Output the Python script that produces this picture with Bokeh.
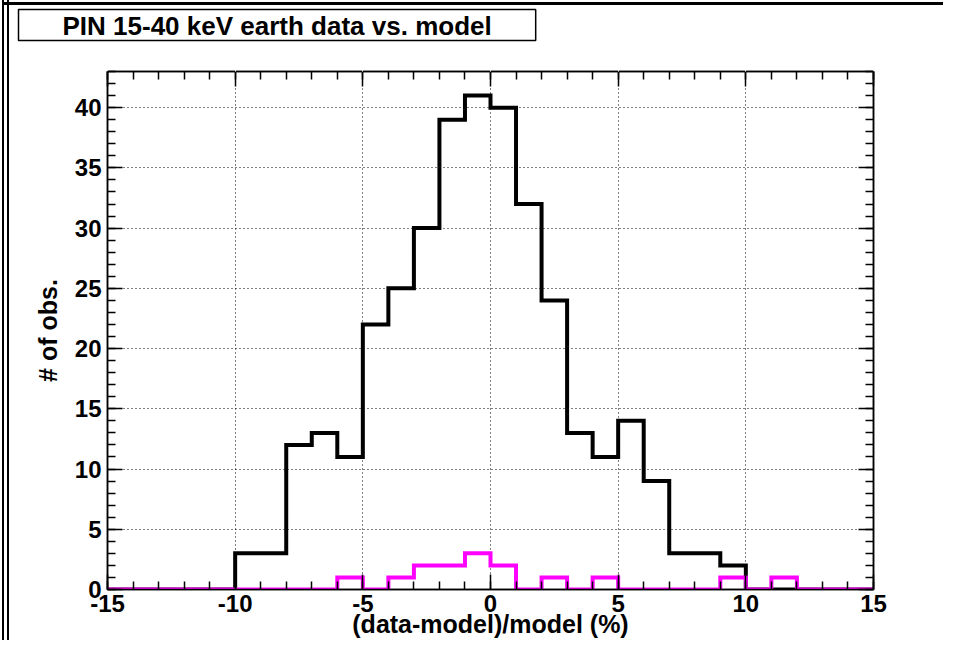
from bokeh.plotting import figure
from bokeh.models import LinearAxis, SingleIntervalTicker, InlineStyleSheet
from bokeh.embed import file_html
from bokeh.resources import INLINE

# ---- data ----
bin_edges = list(range(-15, 16))  # 30 bins of width 1 from -15 to 15
data_counts = [0, 0, 0, 0, 0,
               3, 3, 12, 13, 11,
               22, 25, 30, 39, 41,
               40, 32, 24, 13, 11,
               14, 9, 3, 3, 2,
               0, 0, 0, 0, 0]
sub_counts = [0, 0, 0, 0, 0,
              0, 0, 0, 0, 1,
              0, 1, 2, 2, 3,
              2, 0, 1, 0, 1,
              0, 0, 0, 0, 1,
              0, 1, 0, 0, 0]
x_tick_values = [-15, -10, -5, 0, 5, 10, 15]
x_tick_labels = ["-15", "-10", "-5", "0", "5", "10", "15"]
title_text = "PIN 15-40 keV earth data vs. model"
x_title = "(data-model)/model (%)"
y_title = "# of obs."

FONT = "Liberation Sans"
W, H = 945, 640
FL, FR, FT, FB = 107, 873, 71, 591   # frame edges in canvas pixels

p = figure(width=W, height=H, x_range=(-15, 15), y_range=(0, 43),
           output_backend="svg", toolbar_location=None,
           min_border_left=FL, min_border_right=W - FR,
           min_border_top=FT, min_border_bottom=H - FB,
           title=title_text)
p.background_fill_color = "white"
p.border_fill_color = "white"
p.border_fill_alpha = 0
p.outline_line_color = "black"
p.outline_line_width = 1.5
p.stylesheets = [InlineStyleSheet(css=(
    ":host { clip-path: inset(0 2px 0 0); background: "
    "linear-gradient(black, black) 2px 2px / 100% 3px no-repeat, "
    "linear-gradient(to right, white 0 2px, black 2px 4px, white 4px 7px, black 7px 9px) 0 0 / 9px 100% no-repeat, "
    "white; }"))]

# title box
p.title.align = "left"
p.title.offset = 18 - FL
p.title.standoff = 0
p.title.text_font = FONT
p.title.text_font_style = "bold"
p.title.text_font_size = "26px"
p.title.text_color = "black"
p.title.border_line_color = "black"
p.title.border_line_width = 1.5
p.title.background_fill_color = "white"
p.title.padding = dict(left=44, right=44, top=1, bottom=0)

# main axes
for ax in (p.xaxis[0], p.yaxis[0]):
    ax.ticker = SingleIntervalTicker(interval=5, num_minor_ticks=5)
    ax.major_tick_in = 15
    ax.major_tick_out = 0
    ax.minor_tick_in = 8
    ax.minor_tick_out = 0
    ax.major_tick_line_width = 1.5
    ax.minor_tick_line_width = 1.5
    ax.axis_line_width = 1.5
    ax.major_label_text_font = FONT
    ax.major_label_text_font_style = "bold"
    ax.major_label_text_font_size = "24px"
    ax.major_label_text_color = "black"
    ax.axis_label_text_font = FONT
    ax.axis_label_text_font_style = "bold"
    ax.axis_label_text_font_size = "25px"
    ax.axis_label_text_color = "black"

p.xaxis[0].major_label_overrides = dict(zip(x_tick_values, x_tick_labels))
p.xaxis[0].axis_label = x_title
p.yaxis[0].axis_label = y_title
p.xaxis[0].major_label_standoff = 5
p.xaxis[0].axis_label_standoff = -5
p.yaxis[0].major_label_standoff = 6
p.yaxis[0].axis_label_standoff = 10

# mirror axes (ticks only, labels not drawn)
for loc in ("above", "right"):
    ax = LinearAxis(ticker=SingleIntervalTicker(interval=5, num_minor_ticks=5))
    ax.major_tick_in = 15
    ax.major_tick_out = 0
    ax.minor_tick_in = 8
    ax.minor_tick_out = 0
    ax.major_tick_line_width = 1.5
    ax.minor_tick_line_width = 1.5
    ax.axis_line_width = 1.5
    ax.major_label_text_font_size = "0px"
    ax.major_label_text_color = None
    ax.major_label_standoff = 0
    p.add_layout(ax, loc)

# invisible spacer axis above, lifting the title box off the frame
spacer = LinearAxis(ticker=SingleIntervalTicker(interval=5, num_minor_ticks=0))
spacer.axis_line_color = None
spacer.major_tick_in = 0
spacer.major_tick_out = 31
spacer.major_tick_line_color = "white"
spacer.major_tick_line_width = 1
spacer.minor_tick_in = 0
spacer.minor_tick_out = 0
spacer.minor_tick_line_color = None
spacer.major_label_text_font_size = "0px"
spacer.major_label_text_color = None
spacer.major_label_standoff = 0
p.add_layout(spacer, "above")

# grid
for g in (p.xgrid[0], p.ygrid[0]):
    g.grid_line_color = "black"
    g.grid_line_width = 1
    g.grid_line_dash = "1 3"

# histograms as steps
xs = bin_edges
ys_data = data_counts + [data_counts[-1]]
ys_sub = sub_counts + [sub_counts[-1]]
p.step(xs, ys_data, mode="after", line_color="black", line_width=4, line_join="miter")
p.step(xs, ys_sub, mode="after", line_color="#ff00ff", line_width=4, line_join="miter")

open("out.html", "w").write(file_html(p, INLINE))
